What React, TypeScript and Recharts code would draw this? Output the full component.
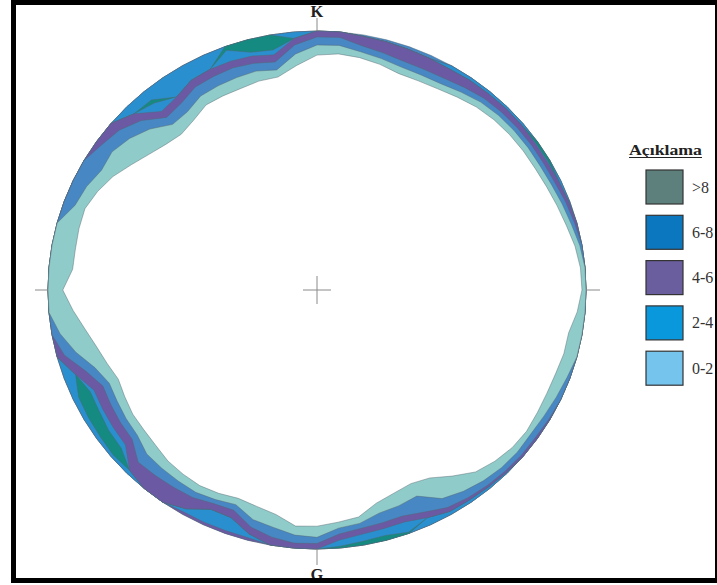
import React from 'react';
import { RadarChart, Radar, PolarAngleAxis, PolarRadiusAxis } from 'recharts';

// Azimuth of every sample ray, clockwise from K (north), degrees
const azimuth = [
  0, 5, 10, 15, 20, 25, 30, 35, 40, 45, 50, 55, 60, 65, 70, 75, 80, 85,
  90, 95, 100, 105, 110, 115, 120, 125, 130, 135, 140, 145, 150, 155, 160, 165, 170, 175,
  180, 185, 190, 195, 200, 205, 210, 215, 220, 225, 230, 235, 240, 245, 250, 255, 260, 265,
  270, 275, 280, 285, 290, 295, 300, 305, 310, 315, 320, 325, 330, 335, 340, 345, 350, 355,
];

// Outer radius (fraction of the net radius) of each contour fill along the rays.
// Purple band lying on the rim (4-6)
const purpleRimR = [
  1, 1, 0.994, 0.992, 0.989, 0.987, 1, 1, 1, 1, 1, 1, 1, 1, 1, 1, 1, 1,
  1, 1, 1, 1, 1, 1, 1, 1, 1, 1, 1, 1, 1, 1, 1, 1, 1, 1,
  1, 1, 1, 1, 1, 1, 1, 1, 1, 1, 1, 1, 1, 1, 1, 1, 1, 1,
  1, 1, 1, 1, 1, 1, 1, 1, 1, 1, 1, 1, 1, 1, 1, 1, 1, 1,
];
// Outer 6-8 band
const outer68R = [
  1, 1, 0.994, 0.992, 0.989, 0.987, 1, 1, 1, 1, 1, 1, 1, 1, 1, 1, 1, 1,
  1, 1, 1, 1, 1, 1, 1, 1, 1, 1, 1, 1, 1, 1, 1, 1, 1, 1,
  1, 1, 1, 0.99, 0.989, 0.99, 0.99, 1, 1, 1, 1, 1, 1, 1, 1, 1, 1, 1,
  1, 1, 1, 1, 1, 1, 1, 1, 1, 1, 1, 1, 1, 1, 1, 1, 1, 1,
];
// >8 peaks
const over8R = [
  1, 1, 0.994, 0.992, 0.989, 0.987, 0.985, 0.989, 0.99, 0.992, 0.992, 1, 1, 0.992, 0.996, 1, 1, 1,
  1, 1, 1, 1, 1, 1, 1, 1, 1, 0.996, 0.992, 0.989, 0.987, 0.97, 1, 1, 1, 1,
  1, 1, 1, 0.975, 0.935, 0.934, 0.975, 1, 1, 0.985, 0.99, 0.985, 0.982, 0.978, 0.955, 1, 1, 1,
  1, 1, 1, 1, 1, 1, 1, 1, 1, 0.962, 0.958, 0.91, 0.935, 0.94, 1, 1, 1, 0.975,
];
// Inner 6-8 band, around the peaks
const inner68R = [
  1, 1, 0.994, 0.992, 0.989, 0.987, 0.985, 0.989, 0.99, 0.992, 0.992, 0.992, 0.992, 0.992, 0.996, 1, 1, 1,
  1, 1, 1, 1, 1, 1, 1, 1, 1, 0.996, 0.992, 0.989, 0.987, 0.97, 0.995, 0.981, 0.985, 0.993,
  1, 1, 1, 0.975, 0.935, 0.934, 0.975, 1, 1, 0.985, 0.95, 0.945, 0.935, 0.93, 0.955, 1, 1, 1,
  1, 1, 1, 1, 1, 1, 1, 1, 1, 0.962, 0.942, 0.91, 0.935, 0.94, 0.985, 0.95, 0.941, 0.975,
];
// 4-6 band
const band46R = [
  1, 1, 0.994, 0.992, 0.989, 0.987, 0.985, 0.989, 0.99, 0.992, 0.992, 0.989, 0.989, 0.992, 0.996, 1, 1, 1,
  1, 1, 1, 1, 1, 1, 1, 1, 1, 0.996, 0.992, 0.989, 0.987, 0.97, 0.953, 0.954, 0.958, 0.969,
  1, 1, 1, 0.975, 0.935, 0.934, 0.975, 1, 1, 0.985, 0.93, 0.925, 0.92, 0.915, 0.955, 1, 1, 1,
  1, 1, 1, 1, 1, 1, 1, 1, 1, 0.962, 0.9, 0.91, 0.935, 0.94, 0.94, 0.935, 0.922, 0.975,
];
// 2-4 band
const band24R = [
  0.977, 0.979, 0.958, 0.948, 0.94, 0.94, 0.944, 0.955, 0.966, 0.971, 0.973, 0.974, 0.974, 0.977, 0.985, 0.992, 1, 1,
  1, 1, 1, 1, 1, 1, 0.996, 0.992, 0.992, 0.989, 0.985, 0.979, 0.97, 0.946, 0.929, 0.931, 0.935, 0.946,
  0.979, 0.981, 0.969, 0.948, 0.905, 0.91, 0.925, 0.93, 0.935, 0.94, 0.897, 0.892, 0.885, 0.878, 0.915, 0.972, 1, 1,
  1, 1, 1, 1, 1, 1, 1, 0.977, 0.96, 0.925, 0.87, 0.88, 0.905, 0.91, 0.913, 0.906, 0.894, 0.95,
];
// 0-2 band
const band02R = [
  0.946, 0.948, 0.934, 0.925, 0.916, 0.916, 0.92, 0.933, 0.947, 0.954, 0.957, 0.958, 0.958, 0.962, 0.97, 0.979, 0.992, 1,
  1, 1, 1, 1, 0.989, 0.981, 0.974, 0.97, 0.973, 0.97, 0.962, 0.949, 0.93, 0.878, 0.887, 0.892, 0.915, 0.923,
  0.955, 0.95, 0.931, 0.918, 0.882, 0.893, 0.902, 0.9, 0.898, 0.895, 0.872, 0.866, 0.858, 0.852, 0.878, 0.928, 0.97, 1,
  1, 1, 1, 1, 0.957, 0.945, 0.925, 0.93, 0.91, 0.879, 0.835, 0.84, 0.865, 0.87, 0.873, 0.875, 0.863, 0.915,
];
// Empty interior
const emptyR = [
  0.907, 0.915, 0.911, 0.902, 0.889, 0.891, 0.897, 0.909, 0.922, 0.93, 0.934, 0.936, 0.937, 0.942, 0.95, 0.96, 0.974, 0.983,
  0.985, 0.971, 0.95, 0.95, 0.944, 0.943, 0.946, 0.951, 0.947, 0.935, 0.917, 0.877, 0.838, 0.825, 0.835, 0.852, 0.89, 0.9,
  0.912, 0.915, 0.88, 0.865, 0.856, 0.866, 0.872, 0.868, 0.862, 0.848, 0.84, 0.836, 0.825, 0.815, 0.83, 0.848, 0.875, 0.91,
  0.945, 0.912, 0.912, 0.916, 0.918, 0.9, 0.876, 0.843, 0.815, 0.795, 0.785, 0.8, 0.825, 0.827, 0.828, 0.835, 0.835, 0.87,
];

// Legend classes
const legendLabels = ['>8', '6-8', '4-6', '2-4', '0-2'];
const legendColors = ['#5d807c', '#0b77bf', '#6b5e9e', '#0a98dc', '#74c4ee'];

const COLORS = {
  low02: '#8fcbc9',
  mid24: '#4787c4',
  mid46: '#6b5aa3',
  high68: '#2a8fcf',
  over8: '#148a80',
};

const data = azimuth.map((az, i) => ({
  az,
  rim: 1,
  purpleRim: purpleRimR[i],
  outer68: outer68R[i],
  over8: over8R[i],
  inner68: inner68R[i],
  band46: band46R[i],
  band24: band24R[i],
  band02: band02R[i],
  empty: emptyR[i],
}));

// Drawing order: outermost first, each later fill covers the inner part of the previous one
const layers = [
  { key: 'rim', fill: COLORS.mid24 },
  { key: 'purpleRim', fill: COLORS.mid46 },
  { key: 'outer68', fill: COLORS.high68 },
  { key: 'over8', fill: COLORS.over8 },
  { key: 'inner68', fill: COLORS.high68 },
  { key: 'band46', fill: COLORS.mid46 },
  { key: 'band24', fill: COLORS.mid24 },
  { key: 'band02', fill: COLORS.low02 },
  { key: 'empty', fill: '#ffffff' },
];

const CX = 317;
const CY = 290;
const RX = 269;
const RY = 259;
const SERIF = '"Liberation Serif", "Times New Roman", serif';

export default function App() {
  return (
    <div
      style={{
        position: 'absolute',
        left: 0,
        top: 0,
        width: 717,
        height: 585,
        background: '#ffffff',
        overflow: 'hidden',
      }}
    >
      <div
        style={{
          position: 'absolute',
          left: 0,
          top: 0,
          transform: `scaleY(${RY / RX})`,
          transformOrigin: `0px ${CY}px`,
        }}
      >
        <RadarChart
          width={717}
          height={585}
          data={data}
          cx={CX}
          cy={CY}
          outerRadius={RX}
          startAngle={90}
          endAngle={-270}
          margin={{ top: 0, right: 0, bottom: 0, left: 0 }}
        >
          <PolarAngleAxis dataKey="az" tick={false} axisLine={false} tickLine={false} />
          <PolarRadiusAxis type="number" domain={[0, 1]} tick={false} axisLine={false} tickLine={false} />
          {layers.map((l) => (
            <Radar
              key={l.key}
              dataKey={l.key}
              fill={l.fill}
              fillOpacity={1}
              stroke="#55666e"
              strokeWidth={0.6}
              strokeOpacity={0.75}
              dot={false}
              isAnimationActive={false}
            />
          ))}
        </RadarChart>
      </div>

      <svg
        width={717}
        height={585}
        style={{ position: 'absolute', left: 0, top: 0, pointerEvents: 'none' }}
      >
        {/* compass ticks and centre cross */}
        <g stroke="#8a8a8a" strokeWidth={1}>
          <line x1={CX} y1={18} x2={CX} y2={CY - RY} />
          <line x1={CX} y1={CY + RY} x2={CX} y2={565} />
          <line x1={35} y1={CY} x2={CX - RX} y2={CY} />
          <line x1={CX + RX} y1={CY} x2={600} y2={CY} />
          <line x1={CX - 14} y1={CY} x2={CX + 14} y2={CY} />
          <line x1={CX} y1={CY - 14} x2={CX} y2={CY + 14} />
        </g>
        <text x={CX} y={17} textAnchor="middle" fontFamily={SERIF} fontWeight="bold" fontSize={16.5} fill="#222">
          K
        </text>
        <text x={CX} y={579.5} textAnchor="middle" fontFamily={SERIF} fontWeight="bold" fontSize={16.5} fill="#222">
          G
        </text>

        {/* legend */}
        <text
          x={629}
          y={154.5}
          fontFamily={SERIF}
          fontWeight="bold"
          fontSize={15.5}
          textLength={73}
          lengthAdjust="spacingAndGlyphs"
          fill="#222"
        >
          Açıklama
        </text>
        <line x1={629} y1={157.5} x2={702} y2={157.5} stroke="#222" strokeWidth={1.2} />
        {legendLabels.map((lab, i) => (
          <g key={lab}>
            <rect
              x={646}
              y={170 + i * 45.3}
              width={37}
              height={34}
              fill={legendColors[i]}
              stroke="#333"
              strokeWidth={1.2}
            />
            <text x={692} y={170 + i * 45.3 + 22.5} fontFamily={SERIF} fontSize={16} fill="#333">
              {lab}
            </text>
          </g>
        ))}

        {/* frame */}
        <g fill="#000">
          <rect x={11} y={0} width={706} height={5} />
          <rect x={11} y={0} width={5} height={583} />
          <rect x={11} y={578} width={706} height={5} />
          <rect x={715} y={0} width={2} height={583} />
        </g>
      </svg>
    </div>
  );
}
